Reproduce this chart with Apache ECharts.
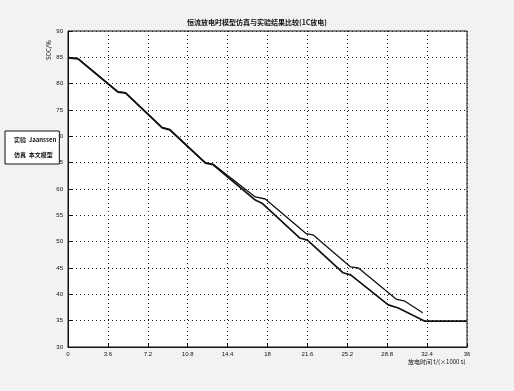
<!DOCTYPE html>
<html lang="zh">
<head>
    <meta charset="UTF-8">
    <title>放电曲线比较</title>
    <script src="https://cdn.jsdelivr.net/npm/echarts@6/dist/echarts.min.js"></script>
    <style>
        body { margin: 0; background: #f2f2f2; }
    </style>
</head>
<body>
    <div id="main" style="width:514px;height:391px;"></div>
<script type="text/javascript">
    // 图中读出的数据
    var xTicks = [0, 3.6, 7.2, 10.8, 14.4, 18, 21.6, 25.2, 28.8, 32.4, 36];
    var yTicks = [30, 35, 40, 45, 50, 55, 60, 65, 70, 75, 80, 85, 90];
    var legendNames = ['实验  Jaanssen', '仿真  本文模型'];
    var xName = '放电时间 t/(×1000 s)';
    var yName = 'SOC/%';

    // 模型仿真曲线
    var simX = [0, 0.9, 4.5, 5.2, 8.5, 9.2, 12.4, 13.1, 16.9, 17.5, 20.9, 21.6, 24.8, 25.5, 28.9, 29.8, 32.2, 36];
    var simY = [84.9, 84.7, 78.4, 78.2, 71.6, 71.2, 64.9, 64.6, 57.9, 57.3, 50.7, 50.3, 44.1, 43.7, 38.0, 37.4, 34.9, 34.9];

    // 实验曲线
    var expX = [0, 0.9, 4.5, 5.2, 8.5, 9.2, 12.4, 13.1, 16.9, 17.8, 21.5, 22.1, 25.5, 26.2, 29.6, 30.4, 32.0];
    var expY = [85.0, 84.8, 78.5, 78.3, 71.7, 71.3, 65.0, 64.7, 58.5, 58.1, 51.5, 51.3, 45.2, 45.0, 39.1, 38.7, 36.5];

    function pairs(xs, ys) {
        var out = [];
        for (var i = 0; i < xs.length; i++) {
            out.push([xs[i], ys[i]]);
        }
        return out;
    }

    var myChart = echarts.init(document.getElementById('main'));

    var dotted = { show: true, lineStyle: { color: '#222', type: [1, 3], width: 1 } };
    var txt = { fontSize: 6, fill: '#111', fontFamily: 'Noto Sans CJK SC' };

    option = {
        backgroundColor: '#f2f2f2',
        animation: false,
        title: {
            text: '恒流放电时模型仿真与实验结果比较(1C放电)',
            left: 'center',
            top: 14,
            textStyle: { fontSize: 7, fontWeight: 'bold', color: '#111', fontFamily: 'Noto Sans CJK SC' }
        },
        legend: {
            orient: 'vertical',
            left: 5,
            top: 131,
            itemWidth: 0,
            itemHeight: 0,
            itemGap: 9,
            padding: [6, 3],
            borderColor: '#111',
            borderWidth: 1,
            backgroundColor: '#fff',
            textStyle: { fontSize: 6, color: '#111', fontWeight: 'bold', fontFamily: 'Noto Sans CJK SC' },
            data: legendNames
        },
        // 坐标轴名称
        graphic: [
            {
                type: 'text',
                left: 408,
                top: 359,
                style: Object.assign({ text: xName }, txt)
            },
            {
                type: 'text',
                x: 46,
                y: 60,
                rotation: Math.PI / 2,
                style: Object.assign({ text: yName }, txt)
            }
        ],
        grid: {
            left: 68,
            right: 47,
            top: 31,
            bottom: 44,
            show: true,
            backgroundColor: '#fff',
            borderColor: '#111',
            borderWidth: 1
        },
        xAxis: {
            type: 'value',
            min: 0,
            max: 36,
            interval: 3.6,
            axisLine: { lineStyle: { color: '#111' } },
            axisTick: { inside: true, length: 4, lineStyle: { color: '#111' } },
            axisLabel: { fontSize: 6, color: '#111', margin: 4 },
            splitLine: dotted
        },
        yAxis: {
            type: 'value',
            min: 30,
            max: 90,
            interval: 5,
            axisLine: { lineStyle: { color: '#111' } },
            axisTick: { inside: true, length: 4, lineStyle: { color: '#111' } },
            axisLabel: { fontSize: 6, color: '#111', margin: 5 },
            splitLine: dotted
        },
        series: [
            {
                name: legendNames[0],
                type: 'line',
                symbol: 'none',
                lineStyle: { color: '#111', width: 1.3 },
                data: pairs(expX, expY)
            },
            {
                name: legendNames[1],
                type: 'line',
                symbol: 'none',
                lineStyle: { color: '#111', width: 1.7 },
                data: pairs(simX, simY)
            }
        ]
    };

    myChart.setOption(option);
</script>
</body>
</html>
